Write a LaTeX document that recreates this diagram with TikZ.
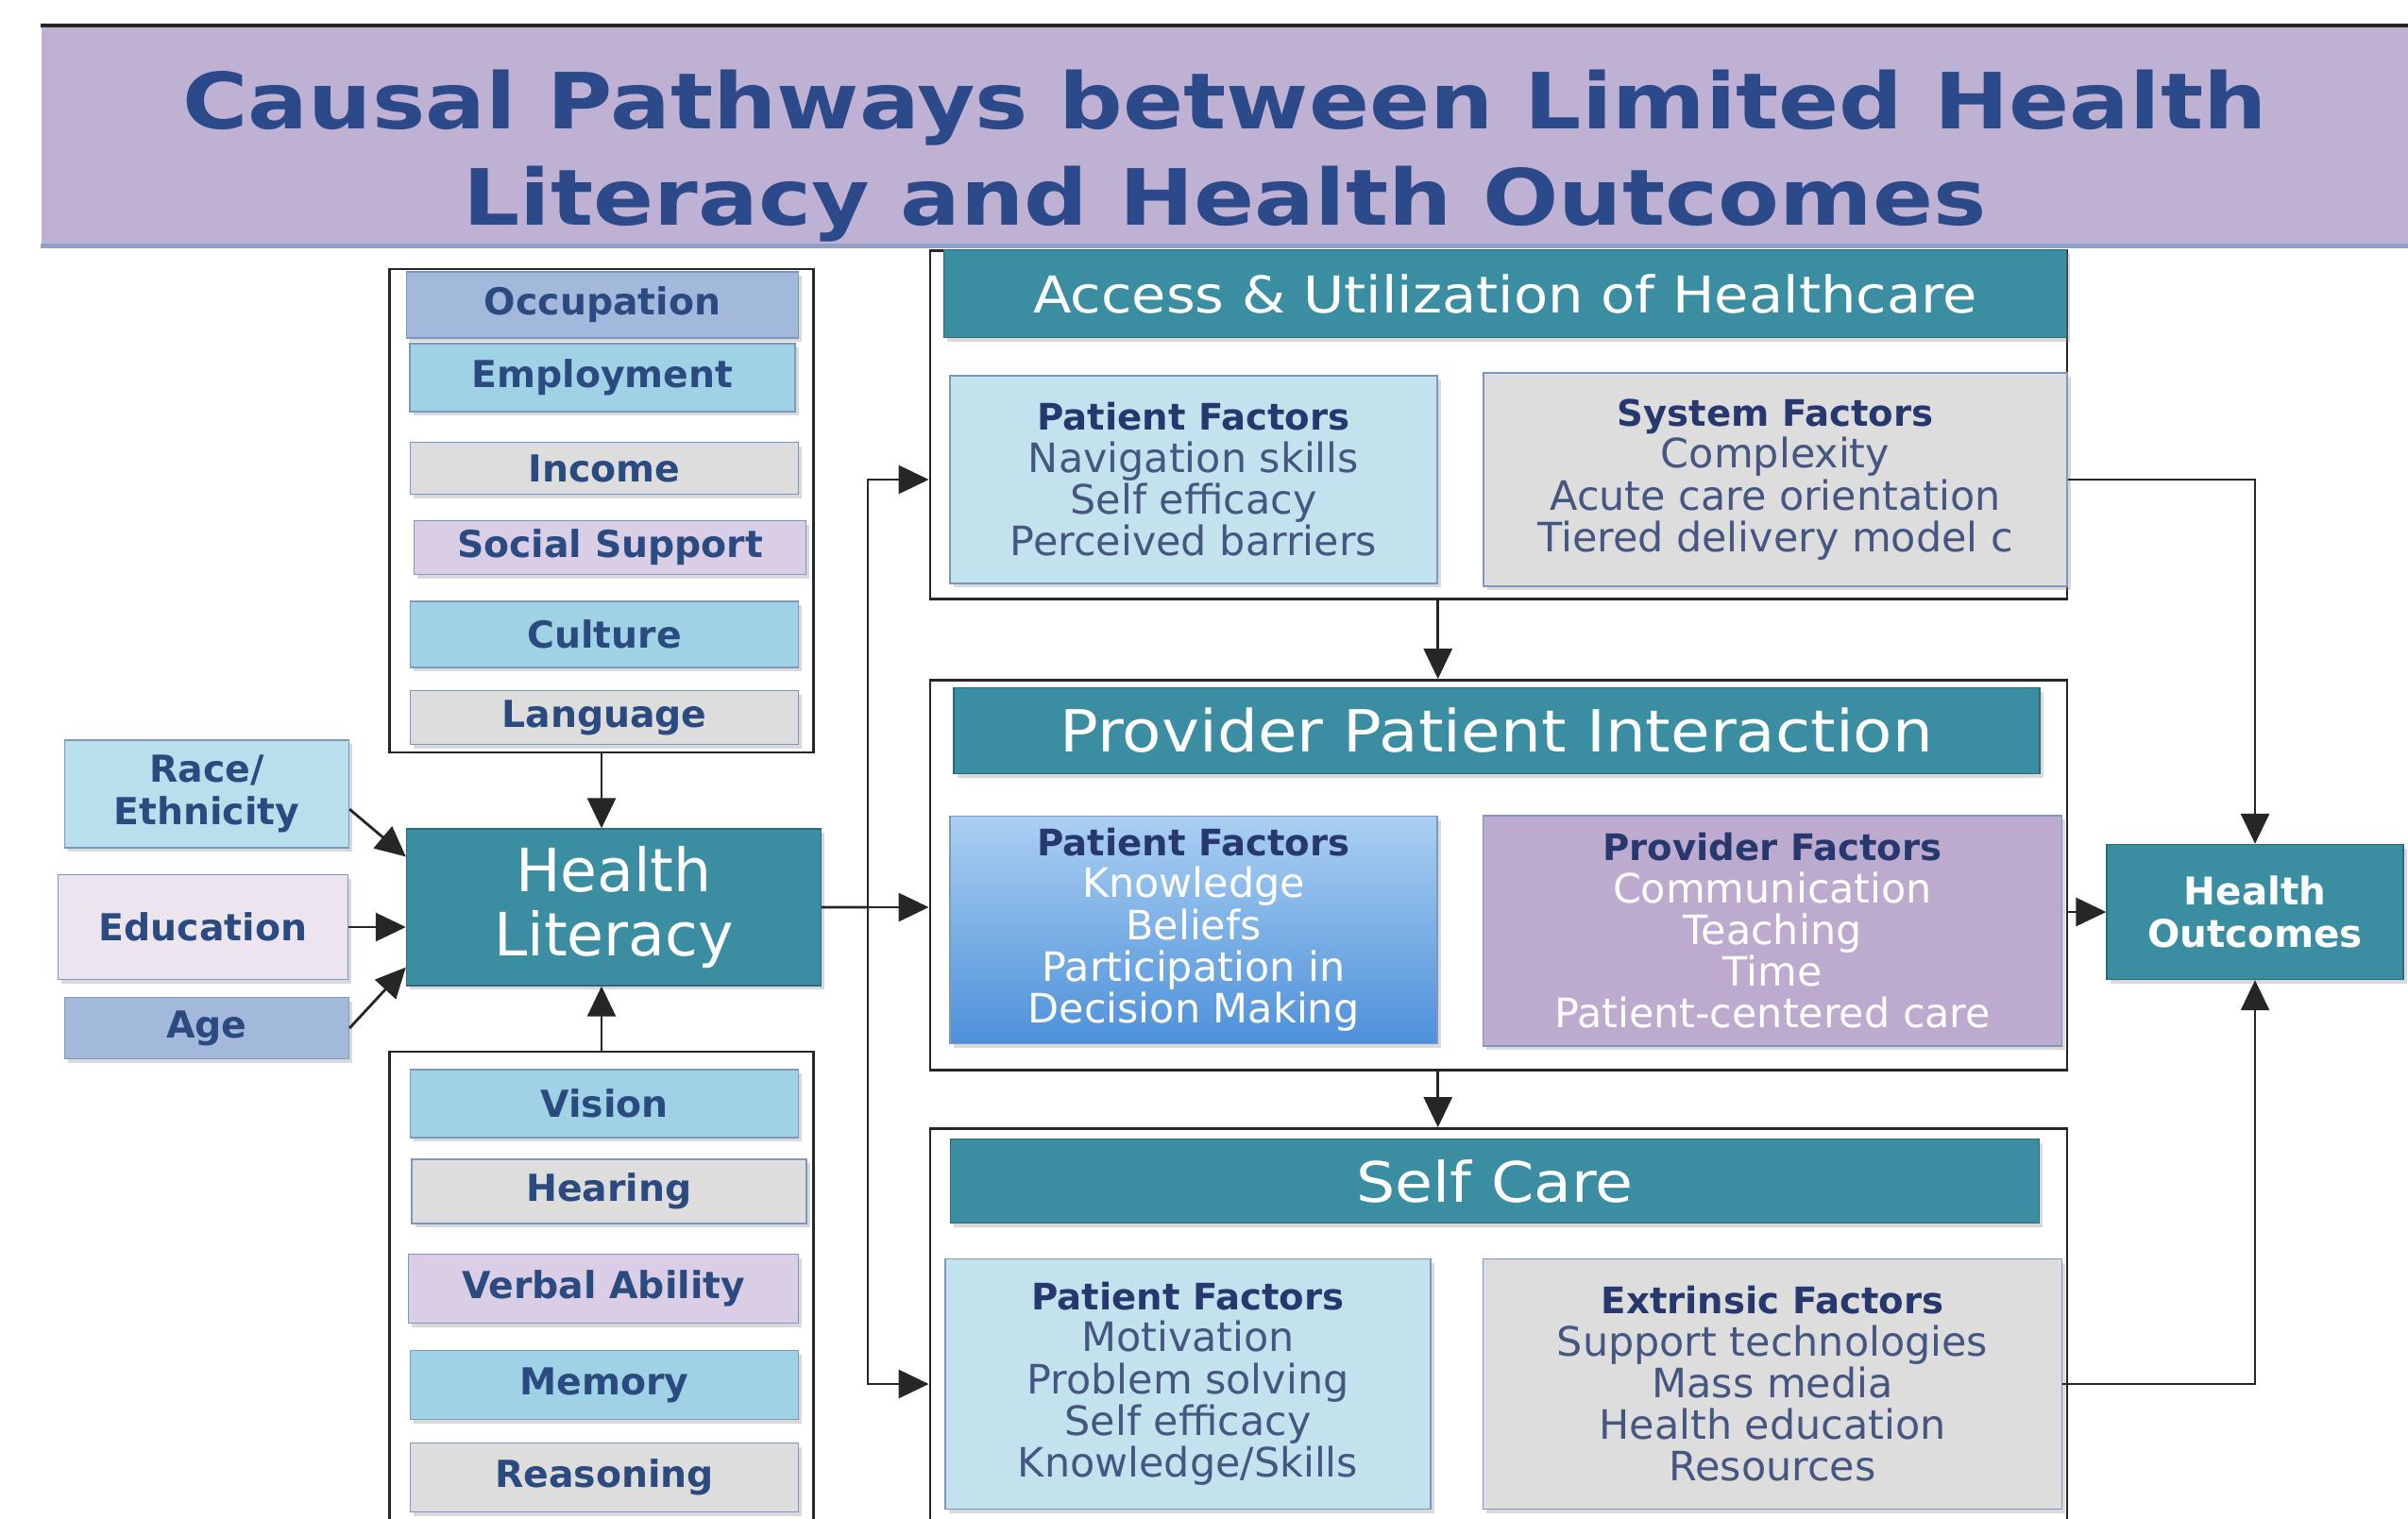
\documentclass[tikz,border=0pt]{standalone}
\usepackage{fontspec}
\setmainfont{DejaVu Sans}
\newfontfamily\widefont{DejaVu Sans}[FakeStretch=1.1]
\newfontfamily\bannerfont{DejaVu Sans}[FakeStretch=1.15]
\usepackage{xcolor}
\usepackage{tikz}
\usetikzlibrary{positioning, arrows.meta, calc, shadows}
\definecolor{bandfill}{HTML}{BFB1D3}
\definecolor{bandedge}{HTML}{8E9FCB}
\definecolor{titleblue}{HTML}{2C4A8A}
\definecolor{tealbox}{HTML}{3B8EA2}
\definecolor{cyanbox}{HTML}{9ED2E4}
\definecolor{steelbox}{HTML}{A3B9DC}
\definecolor{greybox}{HTML}{DDDDDD}
\definecolor{lilacbox}{HTML}{D9CEE5}
\definecolor{edubox}{HTML}{ECE5F0}
\definecolor{racebox}{HTML}{BADFEC}
\definecolor{patientbox}{HTML}{C2E2EE}
\definecolor{providerbox}{HTML}{BCAACF}
\definecolor{gradtop}{HTML}{ABCFF2}
\definecolor{gradbot}{HTML}{4D91DA}
\definecolor{labelblue}{HTML}{2B4B80}
\definecolor{headnavy}{HTML}{27386F}
\definecolor{itemtext}{HTML}{455680}
\definecolor{boxline}{HTML}{7C98BF}
\newcommand{\facthead}[1]{{\fontsize{11}{12.6}\selectfont\bfseries\color{headnavy}#1}}
\tikzset{
  soft/.style    = {drop shadow={shadow xshift=1pt, shadow yshift=-1.2pt, opacity=0.3}},
  band/.style    = {rectangle, fill=bandfill, text=titleblue, align=center, inner sep=0pt,
                    font=\bannerfont\fontsize{23.4}{29}\selectfont\bfseries,
                    minimum width=25.06cm, minimum height=2.32cm},
  group/.style   = {rectangle, draw=black!85, line width=0.8pt},
  factor/.style  = {rectangle, draw=boxline, fill=cyanbox, text=labelblue,
                    align=center, font=\fontsize{11.2}{12.6}\selectfont\bfseries,
                    minimum width=4.11cm, minimum height=0.70cm, inner sep=1pt, soft},
  hlit/.style    = {rectangle, draw=tealbox!75!black, fill=tealbox, text=white,
                    align=center, font=\fontsize{18}{19.5}\selectfont,
                    minimum width=4.39cm, minimum height=1.66cm, soft},
  header/.style  = {rectangle, draw=tealbox!75!black, fill=tealbox, text=white,
                    inner sep=2pt, soft},
  panel/.style   = {rectangle, draw=boxline, text=itemtext, align=center,
                    font=\fontsize{12.2}{12.6}\selectfont, inner sep=2pt, soft},
  outcome/.style = {rectangle, draw=tealbox!75!black, fill=tealbox, text=white,
                    align=center, font=\fontsize{11.5}{12.6}\selectfont\bfseries,
                    minimum width=3.14cm, minimum height=1.43cm, soft},
  link/.style    = {line width=0.8pt, draw=black!85},
  arr/.style     = {-{Triangle[length=3.2mm,width=3mm]}, line width=0.8pt, draw=black!85},
}

\begin{document}
\begin{tikzpicture}

  \path[use as bounding box, clip] (0,0) rectangle (25.50,-16.08);

  % Title
  \node[band] (title) at (12.97,-1.44)
       {\rule{0pt}{30pt}Causal Pathways between Limited Health\\Literacy and Health Outcomes};
  \draw[line width=1.2pt, black!85] (title.north west) -- (title.north east);
  \draw[line width=1.5pt, bandedge] (title.south west) -- (title.south east);

  % Social factors
  \node[group, minimum width=4.49cm, minimum height=5.12cm] (sG) at (6.37,-5.41) {};
  \node[factor, fill=steelbox, minimum width=4.15cm] (s1) at (6.38,-3.23) {Occupation};
  \node[factor, minimum width=4.08cm, minimum height=0.72cm] (s2) at (6.38,-4.00) {Employment};
  \node[factor, fill=greybox, minimum height=0.55cm] (s3) at (6.40,-4.96) {Income};
  \node[factor, fill=lilacbox, minimum width=4.15cm, minimum height=0.57cm] (s4) at (6.46,-5.80) {Social Support};
  \node[factor] (s5) at (6.40,-6.72) {Culture};
  \node[factor, fill=greybox, minimum height=0.57cm] (s6) at (6.40,-7.60) {Language};

  % Demographics
  \node[factor, fill=racebox, minimum width=3.01cm, minimum height=1.14cm] (r1) at (2.19,-8.41) {Race/\\Ethnicity};
  \node[factor, fill=edubox, minimum width=3.07cm, minimum height=1.11cm] (r2) at (2.15,-9.82) {Education};
  \node[factor, fill=steelbox, minimum width=3.01cm, minimum height=0.65cm] (r3) at (2.19,-10.89) {Age};

  % Health literacy
  \node[hlit] (hl) at (6.50,-9.61) {Health\\Literacy};

  % Physical and cognitive factors
  \node[group, minimum width=4.49cm, minimum height=5.12cm] (pG) at (6.37,-13.70) {};
  \node[factor, minimum height=0.72cm] (p1) at (6.40,-11.69) {Vision};
  \node[factor, fill=greybox, minimum width=4.18cm, minimum height=0.68cm] (p2) at (6.45,-12.62) {Hearing};
  \node[factor, fill=lilacbox, minimum width=4.13cm, minimum height=0.73cm] (p3) at (6.39,-13.65) {Verbal Ability};
  \node[factor, minimum height=0.73cm] (p4) at (6.40,-14.67) {Memory};
  \node[factor, fill=greybox, minimum height=0.73cm] (p5) at (6.40,-15.65) {Reasoning};

  \draw[arr] (sG.south) -- (sG.south |- hl.north);
  \draw[arr] (pG.north) -- (pG.north |- hl.south);
  \draw[arr] ($(r1.north east)!0.64!(r1.south east)$) -- ($(hl.north west)!0.18!(hl.south west)$);
  \draw[arr] (r2.east) -- (r2.east -| hl.west);
  \draw[arr] (r3.east) -- ($(hl.north west)!0.88!(hl.south west)$);

  % Access & utilization
  \node[group, minimum width=12.04cm, minimum height=3.69cm] (aG) at (15.87,-4.50) {};
  \node[header, minimum width=11.89cm, minimum height=0.93cm,
        font=\widefont\fontsize{15.3}{18}\selectfont] (aH) at (15.94,-3.11) {Access \& Utilization of Healthcare};
  \node[panel, fill=patientbox, minimum width=5.16cm, minimum height=2.20cm] (a1) at (12.64,-5.08)
       {\facthead{Patient Factors}\\Navigation skills\\Self efficacy\\Perceived barriers};
  \node[panel, fill=greybox, minimum width=6.18cm, minimum height=2.26cm] (a2) at (18.80,-5.08)
       {\facthead{System Factors}\\Complexity\\Acute care orientation\\Tiered delivery model c};

  % Provider patient interaction
  \node[group, minimum width=12.04cm, minimum height=4.13cm] (bG) at (15.87,-9.27) {};
  \node[header, minimum width=11.50cm, minimum height=0.91cm,
        font=\widefont\fontsize{17.5}{20}\selectfont] (bH) at (15.85,-7.74) {Provider Patient Interaction};
  \node[panel, top color=gradtop, bottom color=gradbot, text=white,
        minimum width=5.16cm, minimum height=2.41cm] (b1) at (12.64,-9.85)
       {\facthead{Patient Factors}\\Knowledge\\Beliefs\\Participation in\\Decision Making};
  \node[panel, fill=providerbox, text=white, minimum width=6.13cm, minimum height=2.44cm] (b2) at (18.77,-9.86)
       {\facthead{Provider Factors}\\Communication\\Teaching\\Time\\Patient-centered care};

  % Self care
  \node[group, minimum width=12.04cm, minimum height=4.31cm] (cG) at (15.87,-14.11) {};
  \node[header, minimum width=11.53cm, minimum height=0.89cm,
        font=\widefont\fontsize{16.8}{20}\selectfont] (cH) at (15.83,-12.51) {Self Care};
  \node[panel, fill=patientbox, minimum width=5.14cm, minimum height=2.65cm] (c1) at (12.58,-14.66)
       {\facthead{Patient Factors}\\Motivation\\Problem solving\\Self efficacy\\Knowledge/Skills};
  \node[panel, fill=greybox, minimum width=6.13cm, minimum height=2.65cm] (c2) at (18.77,-14.66)
       {\facthead{Extrinsic Factors}\\Support technologies\\Mass media\\Health education\\Resources};

  % Outcomes
  \node[outcome] (ho) at (23.88,-9.66) {Health\\Outcomes};

  \coordinate (split) at ($(hl.east)!0.43!(hl.east -| bG.west)$);
  \draw[link] (hl.east) -- (split);
  \draw[arr] (split) |- (aG.west |- a1.west);
  \draw[arr] (split) -- (split -| bG.west);
  \draw[arr] (split) |- (cG.west |- c1.west);
  \draw[arr] (aG.south -| a1.east) -- (bG.north -| a1.east);
  \draw[arr] (bG.south -| b1.east) -- (cG.north -| b1.east);
  \draw[arr] (bG.east |- ho.west) -- (ho.west);
  \draw[arr] (a2.east) -| (ho.north);
  \draw[arr] (c2.east) -| (ho.south);

\end{tikzpicture}
\end{document}
